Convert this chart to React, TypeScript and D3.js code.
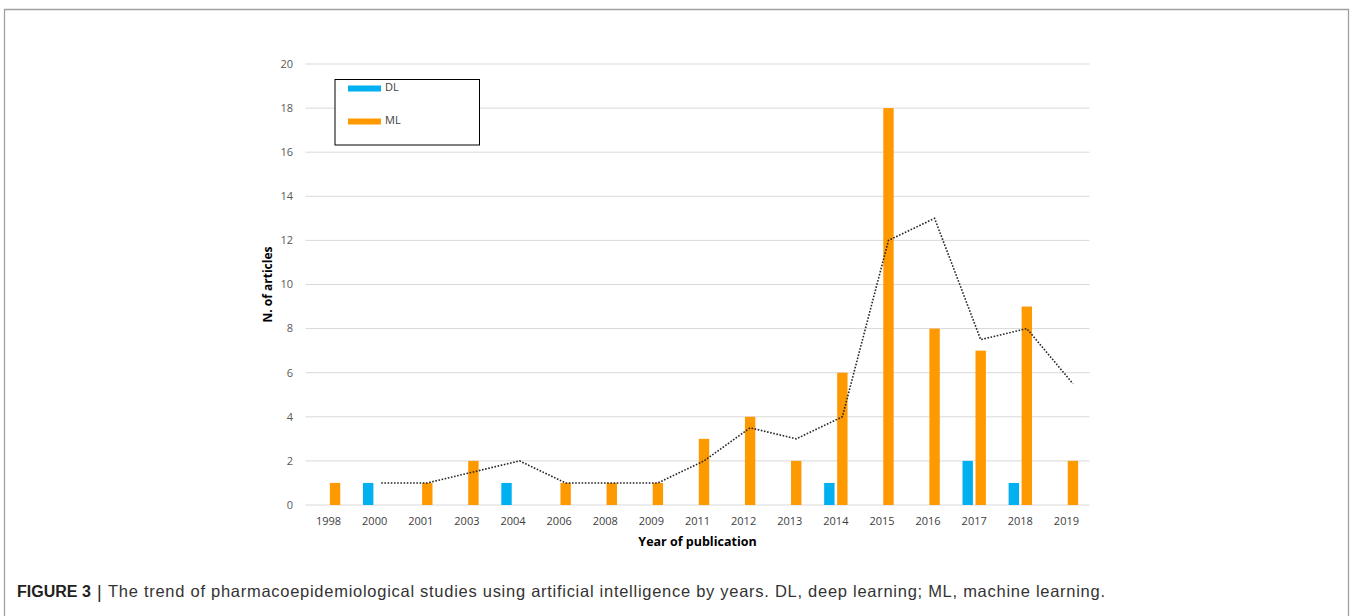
import React from 'react';
import * as d3 from 'd3';

// values
const years = ['1998', '2000', '2001', '2003', '2004', '2006', '2008', '2009', '2011', '2012', '2013', '2014', '2015', '2016', '2017', '2018', '2019'];
const dlCounts = [0, 1, 0, 0, 1, 0, 0, 0, 0, 0, 0, 1, 0, 0, 2, 1, 0];
const mlCounts = [1, 0, 1, 2, 0, 1, 1, 1, 3, 4, 2, 6, 18, 8, 7, 9, 2];
// 2-period moving average trendline (drawn on the ML series), starts at 2000
const trendYears = ['2000', '2001', '2003', '2004', '2006', '2008', '2009', '2011', '2012', '2013', '2014', '2015', '2016', '2017', '2018', '2019'];
const trendValues = [1, 1, 1.5, 2, 1, 1, 1, 2, 3.5, 3, 4, 12, 13, 7.5, 8, 5.5];
const yTicks = [0, 2, 4, 6, 8, 10, 12, 14, 16, 18, 20];
const seriesNames = ['DL', 'ML'];
const seriesColors = ['#00B0F0', '#FF9900'];

const W = 1352;
const H = 616;
const chartFont = '"Open Sans", "Noto Sans", sans-serif';
const captionFont = '"Liberation Sans", Arial, sans-serif';

export default function App() {
  const x = d3.scaleBand().domain(years).range([305.5, 1089.5]);
  const y = d3.scaleLinear().domain([0, 20]).range([505, 64]);
  const bw = x.bandwidth();
  const inner = d3.scaleBand().domain(seriesNames).range([bw / 2 - 11.7, bw / 2 + 11.7]).paddingInner(0.2);

  const trendLine = d3.line<number>()
    .x((_, i) => (x(trendYears[i]) ?? 0) + (inner('ML') ?? 0) + inner.bandwidth() / 2)
    .y(d => y(d));

  const [x0, x1] = x.range();

  return (
    <svg width={W} height={H} style={{ position: 'absolute', left: 0, top: 0, background: '#fff' }}>
      {/* figure frame */}
      <path d={`M4.5,${H + 2} V9.5 H1348.5 V${H + 2}`} fill="none" stroke="#a0a0a0" strokeWidth={1.3} />

      {/* gridlines */}
      <g>
        {yTicks.map(t => (
          <line key={t} x1={x0} x2={x1} y1={y(t)} y2={y(t)} stroke="#D9D9D9" strokeWidth={1} />
        ))}
      </g>

      {/* y tick labels */}
      <g fontFamily={chartFont} fontSize={11} fill="#595959" textAnchor="end">
        {yTicks.map(t => (
          <text key={t} x={293} y={y(t)} dy="0.35em">{t}</text>
        ))}
      </g>

      {/* bars */}
      {[dlCounts, mlCounts].map((vals, si) => (
        <g key={seriesNames[si]} fill={seriesColors[si]}>
          {vals.map((v, i) => v > 0 ? (
            <rect key={years[i]}
              x={(x(years[i]) ?? 0) + (inner(seriesNames[si]) ?? 0)}
              y={y(v)}
              width={inner.bandwidth()}
              height={y(0) - y(v)} />
          ) : null)}
        </g>
      ))}

      {/* trendline */}
      <path d={trendLine(trendValues) ?? ''} fill="none" stroke="#262626" strokeWidth={1.6}
        strokeDasharray="1.6 1.6" />

      {/* x tick labels */}
      <g fontFamily={chartFont} fontSize={11} fill="#404040" textAnchor="middle">
        {years.map(yr => (
          <text key={yr} x={(x(yr) ?? 0) + bw / 2} y={525}>{yr}</text>
        ))}
      </g>

      {/* axis titles */}
      <text x={697.5} y={546} textAnchor="middle" fontFamily={chartFont} fontWeight="bold" fontSize={12.5} fill="#000">
        Year of publication
      </text>
      <text transform={`translate(272,${(y(0) + y(20)) / 2}) rotate(-90)`} textAnchor="middle"
        fontFamily={chartFont} fontWeight="bold" fontSize={12} fill="#000">
        N. of articles
      </text>

      {/* legend */}
      <g>
        <rect x={335} y={79.5} width={144.5} height={65.5} fill="#fff" stroke="#000" strokeWidth={1} />
        {seriesNames.map((s, i) => (
          <g key={s} transform={`translate(0,${88.5 + i * 33})`}>
            <rect x={348} y={-3} width={33} height={6} fill={seriesColors[i]} />
            <text x={385} y={0} dy="0.2em" fontFamily={chartFont} fontSize={11} fill="#404040">{s}</text>
          </g>
        ))}
      </g>

      {/* caption */}
      <text x={17} y={597} fontFamily={captionFont} fontSize={16} fontWeight="bold" fill="#231f20">FIGURE 3</text>
      <text x={97} y={598} fontFamily={captionFont} fontSize={18} fill="#231f20">|</text>
      <text x={108} y={597} fontFamily={captionFont} fontSize={16.5} fill="#333"
        textLength={997} lengthAdjust="spacing">
        The trend of pharmacoepidemiological studies using artificial intelligence by years. DL, deep learning; ML, machine learning.
      </text>
    </svg>
  );
}
